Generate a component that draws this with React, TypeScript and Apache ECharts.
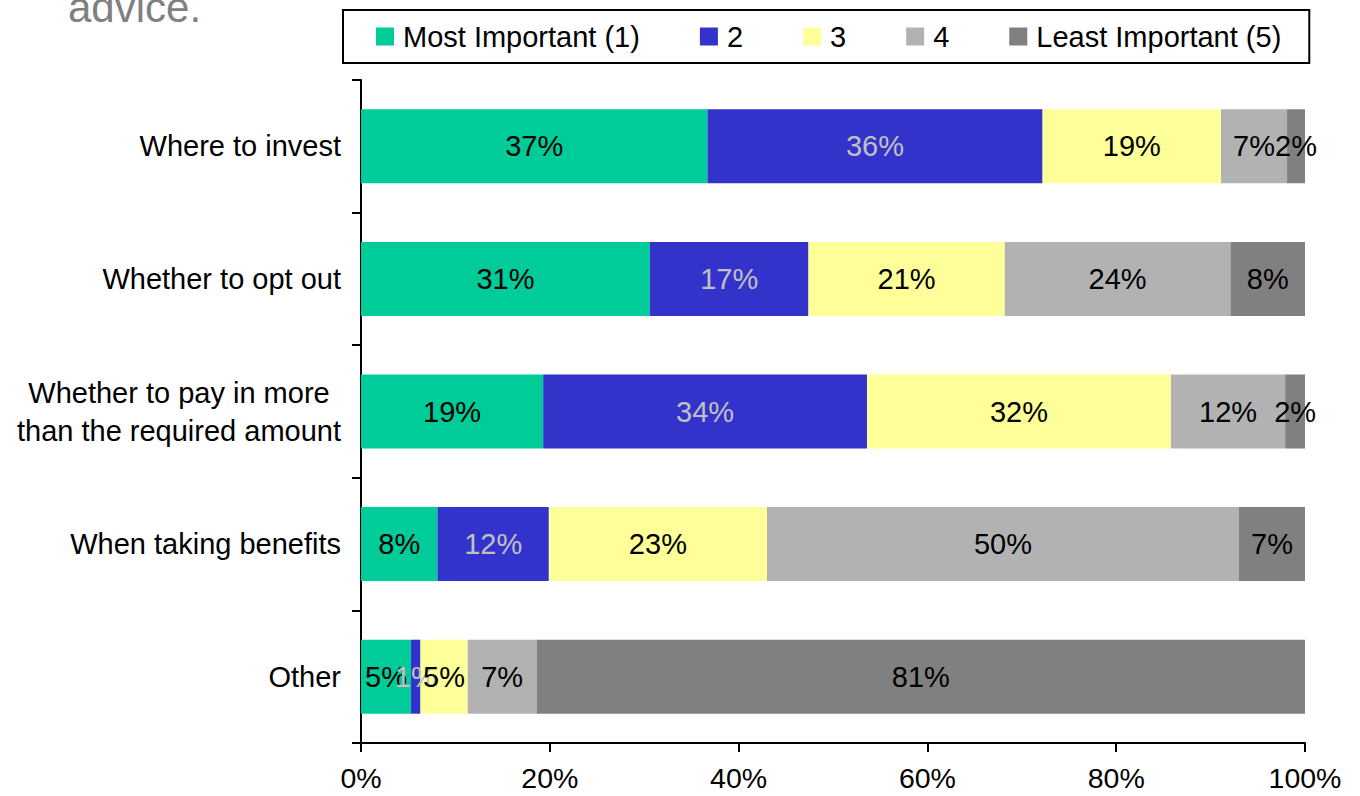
import React, { useEffect, useRef } from "react";
import * as echarts from "echarts";

// Survey: importance ranking of pension advice topics (shares of respondents, %)
const categories: string[] = [
  "Where to invest",
  "Whether to opt out",
  "Whether to pay in more\nthan the required amount",
  "When taking benefits",
  "Other",
];

const seriesNames: string[] = [
  "Most Important (1)",
  "2",
  "3",
  "4",
  "Least Important (5)",
];

const mostImportant: number[] = [36.7, 30.6, 19.3, 8.1, 5.3];
const rank2: number[] = [35.5, 16.8, 34.3, 11.8, 1.0];
const rank3: number[] = [18.9, 20.8, 32.2, 23.1, 5.0];
const rank4: number[] = [7.0, 23.9, 12.1, 50.0, 7.3];
const leastImportant: number[] = [1.9, 7.9, 2.1, 7.0, 81.4];

const seriesColors: string[] = ["#00CC99", "#3333CC", "#FFFF99", "#B2B2B2", "#808080"];
const labelColors: string[] = ["#000000", "#C0C0C0", "#000000", "#000000", "#000000"];

const xTicks: number[] = [0, 20, 40, 60, 80, 100];

const FONT = "'Liberation Sans', Arial, Helvetica, sans-serif";

export default function App() {
  const ref = useRef<HTMLDivElement>(null);

  useEffect(() => {
    if (!ref.current) return;
    const chart = echarts.init(ref.current, undefined, { renderer: "svg" });
    const values = [mostImportant, rank2, rank3, rank4, leastImportant];

    chart.setOption({
      animation: false,
      backgroundColor: "#ffffff",
      textStyle: { fontFamily: FONT },
      graphic: [
        {
          type: "text",
          x: 68,
          y: 7,
          style: {
            text: "advice.",
            fill: "#808080",
            font: `42px ${FONT}`,
            verticalAlign: "middle",
          },
        },
      ],
      legend: {
        data: seriesNames,
        left: 343,
        top: 10,
        orient: "horizontal",
        icon: "rect",
        itemWidth: 18,
        itemHeight: 18,
        itemGap: 60,
        padding: [12, 28, 12, 33],
        borderColor: "#000000",
        borderWidth: 2,
        borderRadius: 0,
        textStyle: {
          fontFamily: FONT,
          fontSize: 29,
          color: "#000000",
          padding: [0, 0, 0, 4],
        },
      },
      grid: { left: 361, right: 55, top: 80, bottom: 53, containLabel: false },
      xAxis: {
        type: "value",
        min: xTicks[0],
        max: xTicks[xTicks.length - 1],
        interval: 20,
        splitLine: { show: false },
        axisLine: { show: true, lineStyle: { color: "#000000", width: 2 } },
        axisTick: { show: true, length: 9, lineStyle: { color: "#000000", width: 2 } },
        axisLabel: {
          formatter: (v: number) => `${v}%`,
          fontFamily: FONT,
          fontSize: 28.5,
          color: "#000000",
          margin: 20,
        },
      },
      yAxis: {
        type: "category",
        inverse: true,
        data: categories,
        axisLine: { show: true, lineStyle: { color: "#000000", width: 2 } },
        axisTick: { show: true, length: 9, lineStyle: { color: "#000000", width: 2 } },
        axisLabel: {
          fontFamily: FONT,
          fontSize: 29,
          color: "#000000",
          margin: 20,
          lineHeight: 38,
          align: "right",
          formatter: (v: string) =>
            v
              .split("\n")
              .map((line) => `{c|${line}}`)
              .join("\n"),
          rich: {
            c: {
              fontFamily: FONT,
              fontSize: 29,
              color: "#000000",
              align: "center",
              lineHeight: 38,
            },
          },
        },
      },
      series: seriesNames.map((name, i) => ({
        name,
        type: "bar",
        stack: "total",
        barWidth: 74,
        data: values[i],
        itemStyle: { color: seriesColors[i] },
        label: {
          show: true,
          position: "inside",
          formatter: (p: { value: number }) => `${Math.round(p.value)}%`,
          fontFamily: FONT,
          fontSize: 29,
          color: labelColors[i],
          textBorderWidth: 0,
        },
      })),
    });

    return () => chart.dispose();
  }, []);

  return (
    <div
      ref={ref}
      style={{ position: "fixed", left: 0, top: 0, width: 1360, height: 796 }}
    />
  );
}
